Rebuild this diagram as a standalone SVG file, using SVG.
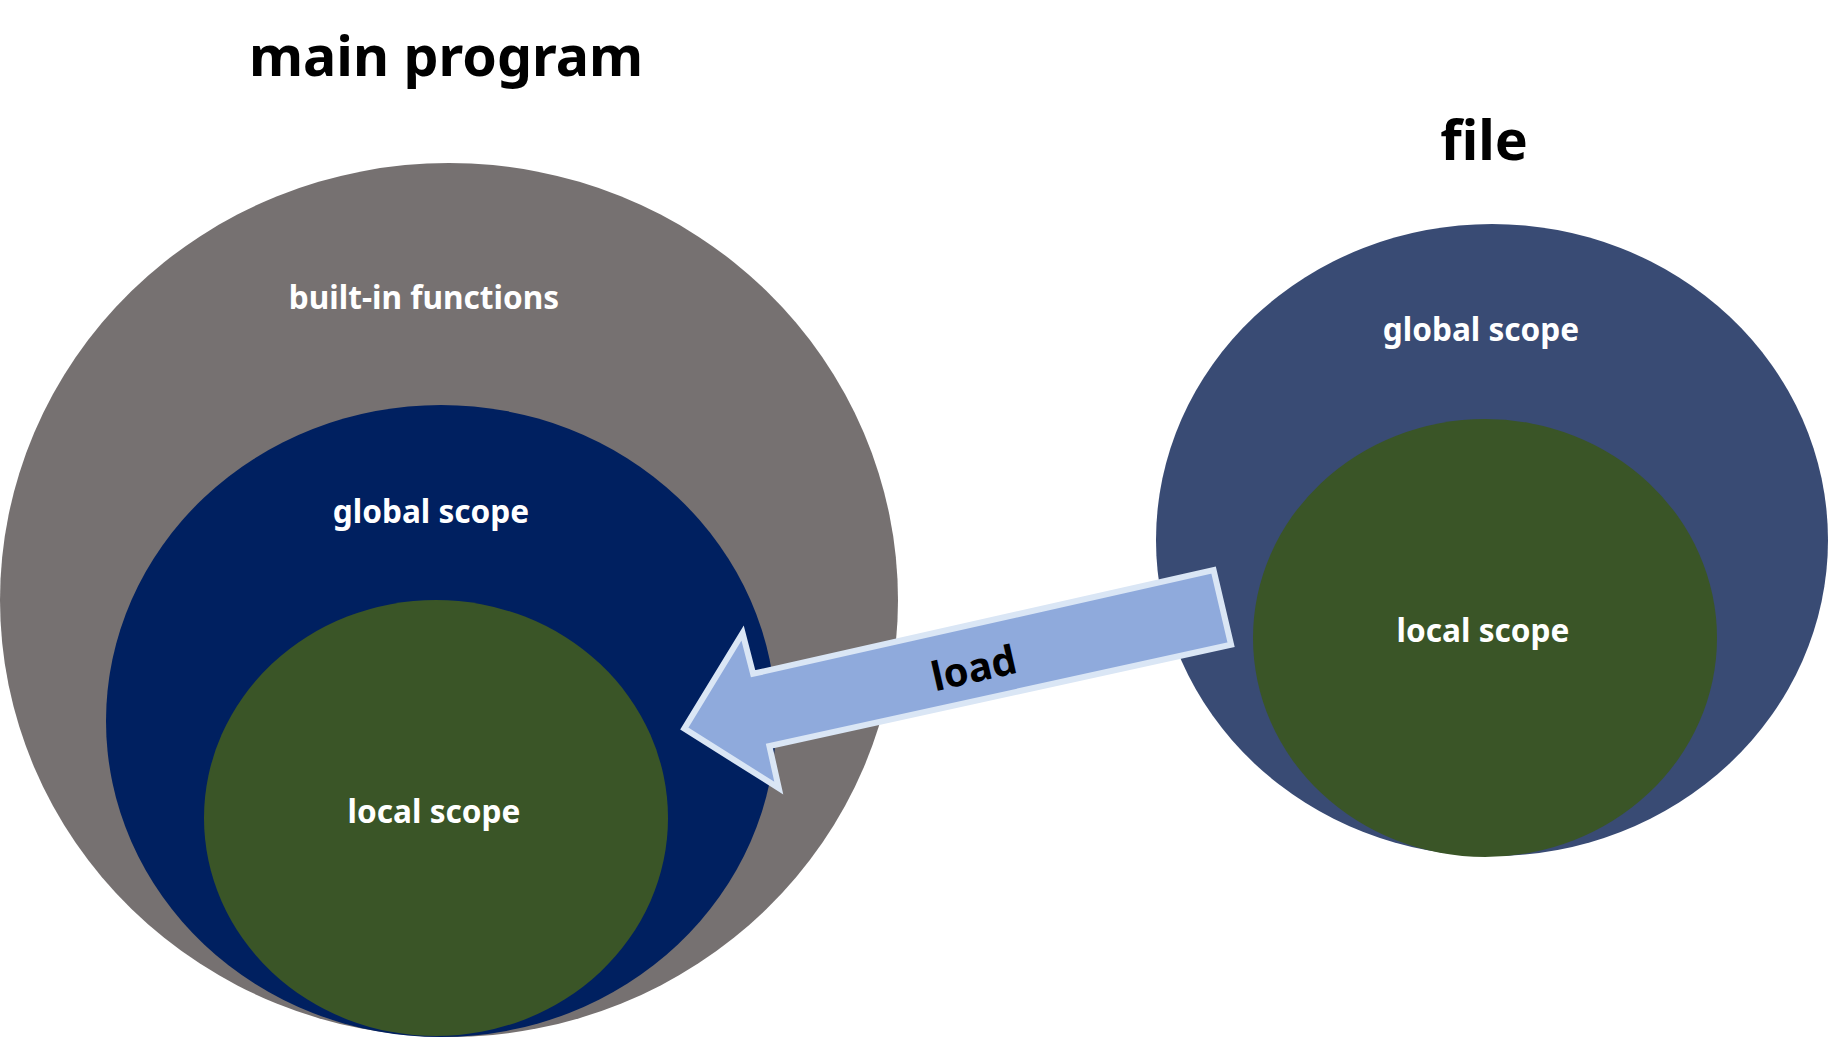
<svg xmlns="http://www.w3.org/2000/svg" width="1828" height="1037" viewBox="0 0 1828 1037">
<style>
.t{font-family:"Noto Sans","Open Sans","DejaVu Sans",sans-serif;font-weight:bold;text-anchor:middle}
.title{font-size:55.5px;fill:#000}
.lbl{font-size:31.6px;fill:#fff}
</style>
<rect width="1828" height="1037" fill="#fff"/>
<g id="main-program">
<text class="t title" x="446" y="76">main program</text>
</g>
<g id="builtin">
<ellipse cx="449" cy="600" rx="449" ry="437" fill="#767171"/>
<text class="t lbl" x="424" y="309">built-in functions</text>
</g>
<g id="main-global">
<ellipse cx="441" cy="721" rx="335" ry="316" fill="#002060"/>
<text class="t lbl" x="431" y="523">global scope</text>
</g>
<g id="main-local">
<ellipse cx="436" cy="818" rx="232" ry="218" fill="#3A5527"/>
<text class="t lbl" x="434" y="823">local scope</text>
</g>
<g id="file">
<text class="t title" x="1484" y="160">file</text>
</g>
<g id="file-global">
<ellipse cx="1492" cy="540" rx="336" ry="316" fill="#394B74"/>
<text class="t lbl" x="1481" y="341">global scope</text>
</g>
<g id="file-local">
<ellipse cx="1485" cy="638" rx="232" ry="219" fill="#3A5527"/>
<text class="t lbl" x="1483" y="642">local scope</text>
</g>
<g id="connectors">
<polygon points="1213.6,570.1 1231.1,644.7 769.4,746.1 778.8,788.1 684.3,728.6 742.6,633 753.1,673.8" fill="#8FAADC" stroke="#DAE6F5" stroke-width="6" stroke-linejoin="miter"/>
<text class="t" font-size="40" fill="#000" transform="translate(977,682) rotate(-12.7)" x="0" y="0">load</text>
</g>
</svg>
